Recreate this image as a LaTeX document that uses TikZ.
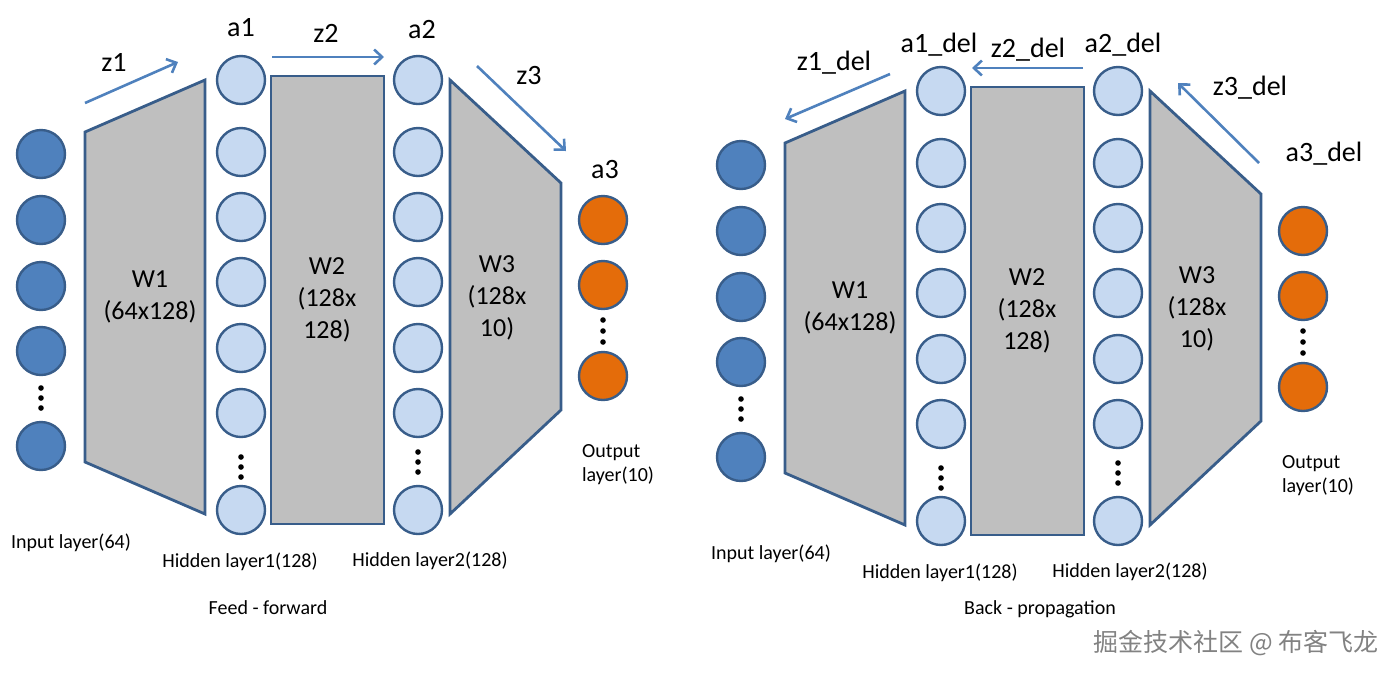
\documentclass[tikz,border=0pt]{standalone}
\usepackage{fontspec}
\setmainfont{Carlito}
\newfontfamily\cjk{Noto Sans CJK SC}
\usetikzlibrary{arrows.meta}

\definecolor{inblue}{RGB}{79,129,189}
\definecolor{hidblue}{RGB}{198,217,241}
\definecolor{outorange}{RGB}{228,108,10}
\definecolor{edgeblue}{RGB}{56,93,138}
\definecolor{wgray}{RGB}{191,191,191}
\definecolor{markgray}{RGB}{130,130,130}

\tikzset{
  neuron/.style={circle,draw=edgeblue,line width=1.2pt,minimum size=24pt,inner sep=0pt},
  inneuron/.style={neuron,fill=inblue},
  hidneuron/.style={neuron,fill=hidblue},
  outneuron/.style={neuron,fill=outorange},
  weights/.style={draw=edgeblue,fill=wgray,line width=1.4pt,line join=miter},
  flow/.style={draw=inblue,line width=1.3pt,-{Straight Barb[length=4pt,width=7.5pt]}},
  vec/.style={font=\fontsize{14}{17}\selectfont,inner sep=0pt},
  wlabel/.style={font=\fontsize{13}{16}\selectfont,align=center},
  layername/.style={font=\fontsize{10}{12}\selectfont,align=left},
}

\begin{document}
\begin{tikzpicture}[x=0.5pt,y=-0.5pt]
\useasboundingbox (0,0) rectangle (1400,676);

% feed - forward
\begin{scope}
\draw[weights] (85,132) -- (205,80) -- (205,514) -- (85,462) -- cycle;
\draw[weights] (271,76) rectangle (384,524);
\draw[weights] (450,80) -- (561,183) -- (561,410) -- (450,514) -- cycle;
\node[wlabel] (Fw1) at (150,297) {W1\\(64x128)};
\node[wlabel] (Fw2) at (327,300) {W2\\(128x\\128)};
\node[wlabel] (Fw3) at (497,298) {W3\\(128x\\10)};
\foreach \y [count=\i] in {154,220,286,351,446} \node[inneuron] (Fx\i) at (41,\y) {};
\foreach \y [count=\i] in {80,152,217,282,348,413,510} \node[hidneuron] (Fh\i) at (241,\y) {};
\foreach \y [count=\i] in {80,152,217,282,348,413,510} \node[hidneuron] (Fg\i) at (418,\y) {};
\foreach \y [count=\i] in {220,285,376} \node[outneuron] (Fo\i) at (603,\y) {};
\foreach \y in {388,398,408} \fill (41,\y) circle[radius=1.4pt];
\foreach \y in {457,467,477} \fill (241,\y) circle[radius=1.4pt];
\foreach \y in {452,462,472} \fill (418,\y) circle[radius=1.4pt];
\foreach \y in {320,331,342} \fill (603,\y) circle[radius=1.4pt];
\node[vec] (Fz1) at (114,62) {z1};
\node[vec] (Fa1) at (241,28) {a1};
\node[vec] (Fz2) at (326,33) {z2};
\node[vec] (Fa2) at (422,30) {a2};
\node[vec] (Fz3) at (529,76) {z3};
\node[vec] (Fa3) at (605,170) {a3};
\coordinate (Fz1s) at (85,103);
\coordinate (Fz1e) at (178,62);
\coordinate (Fz2s) at (272,57);
\coordinate (Fz2e) at (384,57);
\coordinate (Fz3s) at (477,66);
\coordinate (Fz3e) at (566,151);
\draw[flow] (Fz1s) -- (Fz1e);
\draw[flow] (Fz2s) -- (Fz2e);
\draw[flow] (Fz3s) -- (Fz3e);
\node[layername] (Fin) at (71,543) {Input layer(64)};
\node[layername] (Fhid1) at (240,562) {Hidden layer1(128)};
\node[layername] (Fhid2) at (430,561) {Hidden layer2(128)};
\node[layername,anchor=west] (Fout) at (575,465) {Output\\layer(10)};
\end{scope}
\node[layername] (ff) at (268,608) {Feed - forward};

% back - propagation
\begin{scope}[shift={(700,11)}]
\draw[weights] (85,132) -- (205,80) -- (205,514) -- (85,462) -- cycle;
\draw[weights] (271,76) rectangle (384,524);
\draw[weights] (450,80) -- (561,183) -- (561,410) -- (450,514) -- cycle;
\node[wlabel] (Bw1) at (150,297) {W1\\(64x128)};
\node[wlabel] (Bw2) at (327,300) {W2\\(128x\\128)};
\node[wlabel] (Bw3) at (497,298) {W3\\(128x\\10)};
\foreach \y [count=\i] in {154,220,286,351,446} \node[inneuron] (Bx\i) at (41,\y) {};
\foreach \y [count=\i] in {80,152,217,282,348,413,510} \node[hidneuron] (Bh\i) at (241,\y) {};
\foreach \y [count=\i] in {80,152,217,282,348,413,510} \node[hidneuron] (Bg\i) at (418,\y) {};
\foreach \y [count=\i] in {220,285,376} \node[outneuron] (Bo\i) at (603,\y) {};
\foreach \y in {388,398,408} \fill (41,\y) circle[radius=1.4pt];
\foreach \y in {457,467,477} \fill (241,\y) circle[radius=1.4pt];
\foreach \y in {452,462,472} \fill (418,\y) circle[radius=1.4pt];
\foreach \y in {320,331,342} \fill (603,\y) circle[radius=1.4pt];
\node[vec] (Bz1) at (134,52) {z1\_del};
\node[vec] (Ba1) at (239,34) {a1\_del};
\node[vec] (Bz2) at (328,39) {z2\_del};
\node[vec] (Ba2) at (423,34) {a2\_del};
\node[vec] (Bz3) at (550,77) {z3\_del};
\node[vec] (Ba3) at (624,143) {a3\_del};
\coordinate (Bz1s) at (190,63);
\coordinate (Bz1e) at (85,108);
\coordinate (Bz2s) at (383,57);
\coordinate (Bz2e) at (272,57);
\coordinate (Bz3s) at (559,152);
\coordinate (Bz3e) at (478,72);
\draw[flow] (Bz1s) -- (Bz1e);
\draw[flow] (Bz2s) -- (Bz2e);
\draw[flow] (Bz3s) -- (Bz3e);
\node[layername] (Bin) at (71,543) {Input layer(64)};
\node[layername] (Bhid1) at (240,562) {Hidden layer1(128)};
\node[layername] (Bhid2) at (430,561) {Hidden layer2(128)};
\node[layername,anchor=west] (Bout) at (575,465) {Output\\layer(10)};
\end{scope}
\node[layername] (bp) at (1040,609) {Back - propagation};

\node[text=markgray,font=\cjk\fontsize{12.5}{15}\selectfont] (mark) at (1236,643) {掘金技术社区 @ 布客飞龙};
\end{tikzpicture}
\end{document}
